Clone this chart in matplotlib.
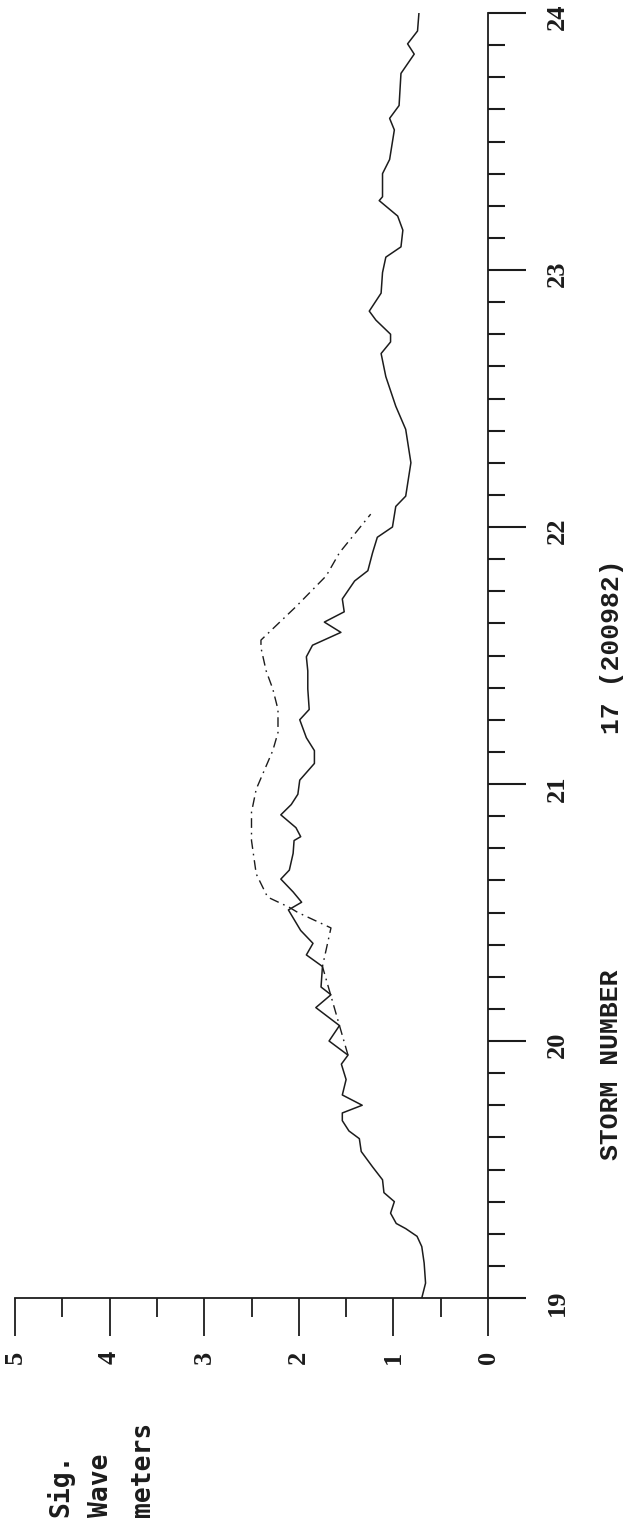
import numpy as np
import matplotlib
matplotlib.use("Agg")
import matplotlib.pyplot as plt
from matplotlib.ticker import MultipleLocator

# ----- Data (time in days, sig. wave height in metres) -----
obs_time = [19.00, 19.058, 19.136, 19.20, 19.24, 19.27, 19.29, 19.33, 19.375, 19.41,
            19.46, 19.51, 19.57, 19.62, 19.65, 19.69, 19.72, 19.75, 19.79, 19.85,
            19.91, 19.945, 20.00, 20.06, 20.13, 20.18, 20.21, 20.29, 20.335, 20.38,
            20.43, 20.51, 20.54, 20.58, 20.63, 20.665, 20.73, 20.78, 20.795, 20.83,
            20.88, 20.92, 20.96, 21.015, 21.08, 21.13, 21.18, 21.25, 21.29, 21.37,
            21.44, 21.495, 21.54, 21.59, 21.63, 21.67, 21.72, 21.79, 21.83, 21.90,
            21.96, 22.00, 22.08, 22.12, 22.25, 22.38, 22.47, 22.585, 22.675, 22.72,
            22.75, 22.805, 22.84, 22.91, 22.99, 23.05, 23.09, 23.155, 23.21, 23.27,
            23.285, 23.375, 23.43, 23.545, 23.59, 23.64, 23.765, 23.84, 23.88, 23.93,
            24.00]
obs_wave = [0.70, 0.66, 0.675, 0.70, 0.75, 0.87, 0.97, 1.03, 0.99, 1.10,
            1.115, 1.22, 1.34, 1.36, 1.47, 1.54, 1.54, 1.33, 1.54, 1.50,
            1.55, 1.48, 1.68, 1.57, 1.82, 1.66, 1.765, 1.75, 1.92, 1.85,
            1.98, 2.11, 1.97, 2.06, 2.19, 2.10, 2.06, 2.05, 1.98, 2.03,
            2.19, 2.08, 2.01, 1.99, 1.835, 1.835, 1.92, 1.99, 1.89, 1.905,
            1.905, 1.92, 1.855, 1.555, 1.73, 1.52, 1.54, 1.41, 1.27, 1.22,
            1.17, 1.01, 0.975, 0.87, 0.815, 0.87, 0.975, 1.08, 1.13, 1.03,
            1.03, 1.185, 1.255, 1.13, 1.115, 1.08, 0.92, 0.90, 0.955, 1.15,
            1.115, 1.115, 1.04, 0.99, 1.04, 0.94, 0.92, 0.78, 0.85, 0.745,
            0.73]

model_time = [19.945, 20.29, 20.44, 20.50, 20.52, 20.56, 20.65, 20.78, 20.89, 20.98,
              21.07, 21.13, 21.20, 21.29, 21.37, 21.44, 21.53, 21.56, 21.69, 21.81,
              21.90, 22.05]
model_wave = [1.48, 1.75, 1.66, 2.01, 2.10, 2.33, 2.45, 2.50, 2.50, 2.45,
              2.345, 2.275, 2.22, 2.22, 2.275, 2.345, 2.40, 2.40, 2.03, 1.71,
              1.57, 1.24]

time_ticks = [19, 20, 21, 22, 23, 24]
wave_ticks = [0, 1, 2, 3, 4, 5]

INK = "#1c1c1c"

# ----- Figure: the chart is drawn turned on its side -----
W, H = 625, 1524
fig = plt.figure(figsize=(W / 100, H / 100), dpi=100)
fig.patch.set_facecolor("white")

# axes box in pixels: wave 5..0 -> x 15..488, time 19..24 -> y 1298..13
x0, x1 = 15, 488
y_top, y_bot = 13, 1298
ax = fig.add_axes([x0 / W, (H - y_bot) / H, (x1 - x0) / W, (y_bot - y_top) / H])

ax.plot(obs_wave, obs_time, color=INK, lw=1.1, solid_joinstyle="round")
ax.plot(model_wave, model_time, color=INK, lw=1.0, linestyle=(0, (7, 3.5, 1.2, 3.5)))

ax.set_xlim(5, 0)
ax.set_ylim(19, 24)

for s in ["top", "left"]:
    ax.spines[s].set_visible(False)
for s in ["bottom", "right"]:
    ax.spines[s].set_linewidth(1.3)
    ax.spines[s].set_color(INK)

ax.yaxis.tick_right()
ax.set_yticks(time_ticks)
ax.yaxis.set_minor_locator(MultipleLocator(0.125))
ax.set_xticks(wave_ticks)
ax.xaxis.set_minor_locator(MultipleLocator(0.5))

ax.tick_params(axis="y", which="major", direction="out", length=27, width=1.5,
               color=INK, pad=15, labelrotation=90)
ax.tick_params(axis="y", which="minor", direction="out", length=12, width=1.5, color=INK)
ax.tick_params(axis="x", which="major", direction="out", length=27, width=1.3,
               color=INK, pad=11, labelrotation=90)
ax.tick_params(axis="x", which="minor", direction="out", length=14, width=1.3, color=INK)

for lab in ax.get_xticklabels() + ax.get_yticklabels():
    lab.set_fontfamily("Liberation Serif")
    lab.set_fontweight("bold")
    lab.set_fontsize(19)
    lab.set_color(INK)

# ----- Axis captions (all written sideways) -----
def px(x, y):
    return x / W, 1 - y / H

fig.text(*px(611, 1065), "STORM NUMBER", rotation=90, ha="center", va="center",
         family="Liberation Mono", fontweight="bold", fontsize=19, color=INK)
fig.text(*px(612, 647), "17 (200982)", rotation=90, ha="center", va="center",
         family="Liberation Mono", fontweight="bold", fontsize=19, color=INK)

for xc, word in [(60, "Sig."), (101, "Wave"), (143, "meters")]:
    fig.text(*px(xc, 1517), word, rotation=90, rotation_mode="anchor",
             ha="left", va="center", family="DejaVu Sans Mono",
             fontweight="bold", fontsize=19, color=INK)

fig.savefig("out.png", dpi=100, facecolor="white")
